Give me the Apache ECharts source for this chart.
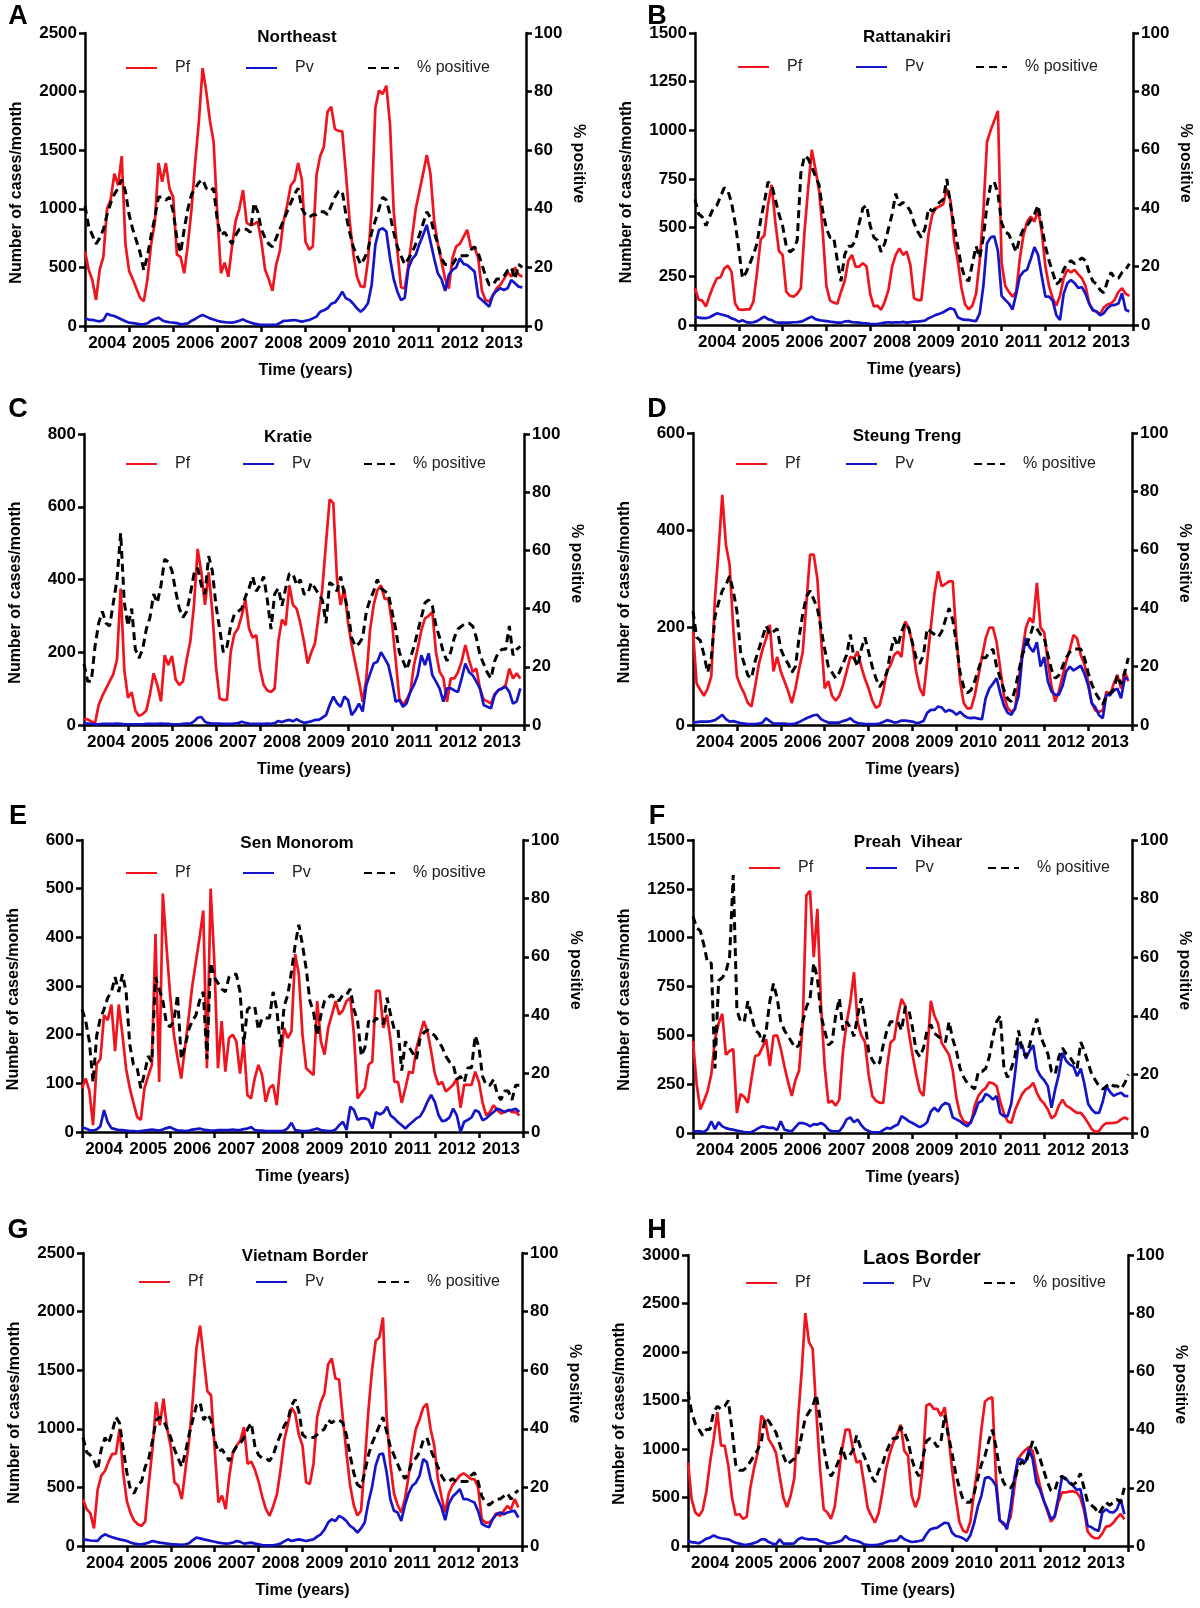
<!DOCTYPE html>
<html>
<head>
<meta charset="utf-8">
<script src="https://cdn.jsdelivr.net/npm/echarts@6/dist/echarts.min.js"></script>
<style>
html,body{margin:0;padding:0;background:#fff}
#main{width:1200px;height:1608px}
</style>
</head>
<body>
<div id="main"></div>
<script>
// monthly data Jan 2004 - Dec 2013
var years = ['2004','2005','2006','2007','2008','2009','2010','2011','2012','2013'];

var neastPf = [635,480,390,222,480,590,1000,1080,1300,1200,1450,700,470,400,320,240,210,400,700,880,1390,1230,1390,1170,1100,610,590,450,700,1000,1400,1750,2200,2000,1750,1570,950,450,540,420,680,900,1000,1160,880,860,870,890,720,480,400,300,520,640,890,1030,1200,1240,1390,1250,720,650,680,1290,1450,1530,1830,1870,1680,1665,1660,1300,900,620,420,340,330,560,1000,1860,2010,1980,2050,1720,980,640,330,320,520,760,1000,1150,1300,1460,1300,900,700,550,400,320,580,680,700,760,820,670,670,580,300,220,210,260,320,350,400,460,420,500,440,420];
var neastPv = [65,55,52,45,40,50,105,92,85,70,55,40,28,25,20,14,15,23,45,60,71,50,37,32,28,25,14,18,23,45,60,80,94,80,65,55,45,37,33,30,28,35,45,57,40,30,20,14,9,9,9,9,9,25,43,45,48,51,45,37,45,51,65,80,122,135,151,190,200,240,293,236,222,190,151,122,150,194,350,692,820,834,806,578,400,293,220,240,492,570,606,700,777,863,720,578,450,400,300,436,478,500,578,530,521,492,464,250,222,194,165,265,300,322,307,322,393,364,336,330];
var neastPos = [41,34,31,28,30,33,38,42,45,47,50,46,38,33,29,25,19,24,31,37,44,44,43,44,39,30,25,33,40,45,47,49,50,47,46,47,36,31,32,30,28,31,33,33,33,32,42,39,33,30,28,27,30,33,36,39,42,45,47,40,38,37,38,38,39,39,38,41,44,46,46,38,32,27,24,21,23,26,32,36,40,44,43,38,32,27,24,21,23,25,28,31,35,39,37,32,28,23,21,21,21,23,24,24,24,26,27,25,21,17,14,14,16,16,17,19,20,16,21,20];

var rattPf = [189,130,125,95,150,200,240,245,290,305,274,110,80,78,80,80,120,270,440,460,617,720,530,380,360,171,150,146,160,189,480,700,900,800,690,480,200,125,115,110,171,225,330,360,300,300,317,300,160,95,100,78,120,180,300,360,394,360,377,310,137,128,128,300,470,566,600,609,620,700,640,430,330,190,105,80,100,160,330,580,940,1000,1050,1100,320,200,170,146,171,343,463,531,557,531,590,480,300,200,137,100,150,240,285,270,283,260,240,200,110,75,69,55,90,105,111,130,170,189,160,150];
var rattPv = [43,38,35,35,40,50,60,55,50,45,34,28,17,25,15,12,14,20,32,43,30,25,14,12,12,12,12,14,15,17,25,35,43,30,25,22,20,17,15,12,12,18,20,15,13,12,9,8,6,5,5,8,12,14,12,14,13,16,12,15,17,17,20,22,35,43,52,58,65,77,86,80,40,30,26,26,22,20,60,200,420,450,455,380,150,129,110,80,160,250,274,285,340,400,360,250,146,146,125,50,26,160,214,231,215,190,195,160,110,77,69,50,60,86,100,103,110,163,77,70];
var rattPos = [43,38,37,34,37,40,41,44,47,46,42,35,26,16,18,21,24,28,36,42,49,48,43,38,34,27,25,26,29,52,58,57,54,51,48,39,33,30,30,22,15,24,27,27,29,35,40,41,34,30,29,25,28,33,38,45,41,42,41,39,35,32,30,33,40,39,40,42,43,50,41,34,27,20,16,15,21,27,23,30,41,48,49,45,35,32,31,28,25,30,33,34,36,38,41,34,27,22,18,14,15,19,21,22,21,22,23,22,18,15,14,12,11,15,18,16,16,18,19,21];

var kratPf = [18,15,10,5,55,80,100,120,140,180,375,150,75,90,40,25,30,40,85,142,110,65,192,165,190,125,110,120,180,230,330,484,420,330,420,311,160,73,69,69,200,250,265,300,345,265,240,247,155,110,95,91,100,230,290,274,384,330,320,280,229,169,200,225,302,375,500,620,610,400,330,375,283,220,170,120,64,128,260,330,370,384,347,347,280,180,73,55,70,91,165,210,260,293,300,311,200,146,130,64,128,128,145,175,220,180,146,155,100,70,65,59,85,95,101,110,155,128,142,128];
var kratPv = [5,4,3,2,2,3,3,3,3,4,3,2,2,2,2,2,2,3,3,3,3,4,3,3,2,2,2,3,4,4,10,20,22,9,5,4,4,4,3,3,3,4,5,9,6,4,3,3,3,3,4,3,5,11,8,12,14,10,16,10,6,8,10,14,14,20,27,55,78,60,50,78,69,27,40,59,37,110,140,169,174,200,183,165,120,64,69,50,60,91,110,137,192,165,197,137,119,100,64,101,101,95,91,128,169,146,137,119,100,55,50,46,82,96,100,105,91,59,65,101];
var kratPos = [21,15,15,27,35,39,35,34,42,50,66,42,34,40,26,23,26,33,37,45,42,48,57,56,53,46,40,37,39,45,52,54,48,45,58,53,41,33,25,27,34,38,39,40,44,47,51,46,48,51,43,33,45,47,41,47,52,52,48,50,45,45,49,47,45,43,35,49,48,46,51,45,39,30,27,28,30,39,43,46,50,47,46,45,39,33,25,22,19,23,27,32,37,42,43,41,34,30,25,22,25,30,33,34,35,35,34,30,24,21,18,16,22,25,26,26,34,24,26,27];

var steungPf = [192,85,72,60,75,100,260,360,473,370,330,200,100,80,65,45,38,80,125,155,178,206,110,140,110,90,70,45,75,115,150,250,350,350,300,180,75,90,60,50,60,82,110,140,137,151,120,95,75,50,35,40,70,110,123,144,151,140,213,199,165,110,75,60,130,200,270,316,285,290,295,295,180,90,45,34,34,60,100,140,178,200,200,170,115,60,35,27,32,90,150,200,220,210,292,200,190,130,80,48,69,100,130,155,185,178,144,125,90,45,30,27,30,69,60,85,103,75,110,90];
var steungPv = [5,6,7,7,7,8,10,15,21,12,7,8,6,4,3,2,2,2,3,5,14,8,3,3,3,3,2,2,3,6,10,14,17,20,21,12,8,5,5,5,5,8,10,14,7,4,3,2,2,2,2,3,6,10,8,5,6,9,9,8,7,4,5,8,25,31,31,38,36,27,31,28,21,27,20,15,14,15,13,12,55,75,85,96,65,40,25,21,34,60,140,178,160,150,170,120,140,90,69,62,62,80,110,120,112,117,122,105,82,45,36,20,14,62,62,70,75,55,96,96];
var steungPos = [39,30,29,24,18,23,37,42,46,48,51,46,39,25,21,17,16,22,26,30,34,31,32,33,26,23,21,18,20,30,38,44,46,43,40,33,26,20,18,16,18,21,24,31,23,20,26,30,25,20,16,13,15,18,25,30,27,32,35,33,28,23,21,24,33,32,31,30,32,36,40,36,28,18,13,11,12,15,19,23,23,25,26,20,16,12,9,8,12,18,24,27,30,34,33,31,30,24,19,16,17,20,23,25,26,26,26,23,18,14,11,9,7,10,11,12,17,14,18,23];

var senPf = [90,110,85,14,140,150,240,230,262,166,262,200,130,90,60,31,25,90,115,138,407,103,490,380,280,200,152,110,172,234,300,350,400,455,131,500,352,131,228,124,193,200,186,120,186,76,69,110,138,117,62,90,97,55,145,214,193,207,366,324,200,131,124,117,269,186,159,214,241,269,241,250,269,276,200,69,80,90,138,145,290,290,214,241,186,103,103,60,90,124,121,172,200,228,207,166,120,97,103,83,90,97,110,50,97,97,97,124,103,60,34,41,55,45,38,41,45,41,41,34];
var senPv = [10,7,4,3,5,12,45,20,8,6,4,4,3,2,2,1,2,3,4,5,4,3,5,8,10,6,3,3,2,3,5,6,7,5,4,3,3,4,4,4,4,5,4,4,6,7,10,4,3,3,2,2,2,2,2,3,8,19,4,3,2,2,3,5,7,4,3,2,2,5,14,21,4,52,45,25,28,28,25,7,41,36,40,52,34,28,20,14,7,15,21,28,32,45,62,76,62,35,22,24,30,48,34,0,21,25,30,45,41,24,28,35,41,48,45,41,45,45,48,41];
var senPos = [42,38,31,17,33,39,42,46,48,53,48,54,48,30,23,22,15,20,26,24,53,49,45,37,36,38,47,25,29,35,38,40,45,48,25,58,53,51,49,48,53,54,54,48,30,42,43,43,35,39,39,39,48,42,29,43,47,55,64,71,64,56,45,41,33,40,45,46,47,45,45,47,47,49,42,38,26,29,38,37,39,38,37,46,40,35,35,21,31,29,27,25,32,34,35,34,33,31,29,26,24,23,18,19,17,22,22,33,29,19,16,16,18,13,11,14,14,11,16,16];

var preahPf = [471,250,120,165,215,300,480,560,610,400,420,430,103,200,185,154,280,394,400,440,480,343,497,500,430,340,260,190,270,320,560,1217,1240,900,1148,650,340,154,165,140,171,420,566,670,823,566,500,465,300,190,165,155,154,330,463,480,600,686,651,514,400,300,215,190,400,677,600,560,460,430,400,320,180,95,60,51,51,140,190,215,230,260,255,240,160,100,60,51,115,160,200,223,235,257,206,170,150,120,75,90,140,171,140,130,115,103,103,80,51,20,5,10,37,51,51,52,55,70,80,69];
var preahPv = [9,9,8,5,20,60,20,55,34,25,20,17,12,9,5,3,5,15,26,34,30,26,26,15,60,17,12,9,30,51,51,45,34,45,43,51,40,17,9,9,9,34,70,80,55,69,40,20,10,3,3,3,15,26,22,35,43,86,75,60,51,40,30,40,55,110,129,110,140,154,146,80,70,60,45,34,60,100,154,165,200,190,171,189,100,86,86,150,300,460,450,380,420,450,326,291,270,240,129,223,300,411,370,350,340,291,330,250,150,120,103,103,160,240,210,190,200,206,190,189];
var preahPos = [74,70,69,64,58,58,22,52,53,55,60,88,42,38,38,45,40,35,34,31,35,45,51,46,38,35,33,31,29,30,38,43,46,58,53,40,35,30,31,40,46,35,38,36,33,40,46,38,28,25,23,24,30,35,38,38,38,35,43,42,36,28,26,29,35,37,34,33,32,31,38,32,28,22,19,17,16,15,21,21,22,26,33,38,40,22,19,22,26,35,28,26,30,35,39,33,30,27,21,20,26,29,27,26,24,22,31,28,24,20,18,16,15,16,17,16,16,15,17,20];

var vnamPf = [400,314,280,150,480,600,640,720,786,786,1000,620,380,280,215,186,171,210,540,829,1229,1029,1257,1000,850,543,514,400,650,900,1250,1686,1880,1600,1320,1286,830,371,430,314,600,800,857,900,1014,700,720,650,550,420,314,257,340,440,650,900,1040,1180,1130,950,857,543,529,700,1100,1229,1300,1550,1600,1429,1420,1100,800,520,350,260,300,700,1150,1500,1750,1780,1950,1100,700,450,350,286,400,600,829,1000,1080,1180,1214,1000,860,571,420,286,450,520,560,600,620,600,571,571,500,229,200,200,229,280,257,300,340,314,400,329];
var vnamPv = [57,52,47,45,43,80,100,86,75,65,57,50,43,30,20,16,14,20,30,43,35,29,25,20,16,14,12,9,15,23,50,71,65,57,50,43,36,29,24,20,22,30,43,35,20,25,29,20,14,8,6,6,6,12,20,40,57,43,50,57,50,43,50,57,80,100,140,200,229,214,257,240,214,171,150,114,150,200,371,500,686,780,790,629,400,300,286,214,350,450,514,540,600,743,714,571,480,400,330,220,360,420,450,486,400,400,385,371,300,190,171,160,230,270,286,271,286,295,300,243];
var vnamPos = [37,32,31,29,26,33,37,35,39,44,42,33,25,19,18,21,22,27,30,36,43,44,43,40,37,33,30,27,32,38,43,48,49,43,45,43,36,32,33,31,29,32,34,35,37,40,42,34,31,30,30,29,31,35,38,41,43,48,50,46,38,37,37,37,38,39,40,43,42,43,43,42,38,31,25,21,20,25,31,35,38,41,44,39,34,31,28,25,23,25,29,30,32,36,37,33,30,27,24,22,22,23,22,22,22,22,24,25,22,17,15,14,15,16,16,17,18,16,18,19];

var laosPf = [862,480,345,310,370,560,860,1100,1379,1034,1034,828,500,320,330,280,300,600,800,960,1345,1290,1100,1040,960,720,500,400,520,700,1300,1800,2400,2100,2034,1379,800,380,345,280,400,700,1000,1200,1200,1000,860,880,650,390,310,241,340,550,790,950,1069,1150,1250,980,931,520,400,500,800,1448,1466,1414,1414,1340,1431,1150,800,500,250,160,138,250,550,820,1200,1490,1520,1534,700,276,220,220,300,600,897,950,990,1020,980,780,620,470,360,250,300,450,552,552,560,565,552,500,370,150,100,80,80,130,200,207,240,290,330,276];
var laosPv = [52,40,34,28,50,75,86,110,90,80,75,69,50,34,25,15,12,20,30,45,69,69,40,25,17,69,24,24,25,28,69,86,75,69,69,69,52,40,24,28,34,45,60,103,69,60,52,40,17,12,10,10,15,24,40,52,52,60,103,69,55,41,45,52,60,121,170,182,190,215,240,234,138,103,95,80,52,110,230,400,517,700,710,680,621,259,241,172,400,700,897,890,862,1000,897,655,580,470,380,276,310,500,707,700,650,621,580,586,414,207,195,170,155,345,379,350,345,380,483,328];
var laosPos = [53,46,42,40,38,40,40,46,48,47,48,50,40,28,26,26,27,29,31,33,36,44,43,41,39,35,31,28,29,30,32,38,44,46,48,52,44,34,27,24,26,29,34,30,31,33,38,34,31,28,24,22,26,28,32,35,37,37,41,39,36,30,26,24,30,36,37,36,34,36,45,38,32,25,20,16,15,15,18,23,28,31,36,40,34,26,22,20,20,22,27,29,28,32,36,33,30,26,22,19,19,23,24,23,22,21,22,25,20,15,14,13,11,13,15,14,15,16,15,20];

// layout of the eight panels
var panels = [
  {letter:'A', title:'Northeast', pf:neastPf, pv:neastPv, pos:neastPos, max:2500, step:500, box:[85,33,441,293], lg:[125,245,367,68], tt:[297,37], lt:[18,17], ts:17},
  {letter:'B', title:'Rattanakiri', pf:rattPf, pv:rattPv, pos:rattPos, max:1500, step:250, box:[695,33,438,292], lg:[737,855,975,67], tt:[907,37], lt:[657,17], ts:17},
  {letter:'C', title:'Kratie', pf:kratPf, pv:kratPv, pos:kratPos, max:800, step:200, box:[84,434,440,291], lg:[125,242,363,464], tt:[288,437], lt:[18,410], ts:17},
  {letter:'D', title:'Steung Treng', pf:steungPf, pv:steungPv, pos:steungPos, max:600, step:200, box:[693,433,439,292], lg:[735,845,973,464], tt:[907,436], lt:[657,410], ts:17},
  {letter:'E', title:'Sen Monorom', pf:senPf, pv:senPv, pos:senPos, max:600, step:100, box:[82,840,441,292], lg:[125,242,363,873], tt:[297,843], lt:[18,817], ts:17},
  {letter:'F', title:'Preah  Vihear', pf:preahPf, pv:preahPv, pos:preahPos, max:1500, step:250, box:[693,840,439,293], lg:[748,865,987,868], tt:[908,842], lt:[657,817], ts:17},
  {letter:'G', title:'Vietnam Border', pf:vnamPf, pv:vnamPv, pos:vnamPos, max:2500, step:500, box:[83,1253,439,293], lg:[138,255,377,1282], tt:[305,1256], lt:[18,1231], ts:17},
  {letter:'H', title:'Laos Border', pf:laosPf, pv:laosPv, pos:laosPos, max:3000, step:500, box:[688,1255,440,291], lg:[745,862,983,1283], tt:[922,1258], lt:[657,1231], ts:20}
];

var FONT = 'Liberation Sans, Arial, Helvetica, sans-serif';
var RED = '#f0141e', BLUE = '#1515c8', BLACK = '#000';

function pairs(arr){ return arr.map(function(v, i){ return [i, v]; }); }

function axisBase(){
  return {
    axisLine: {show:true, lineStyle:{color:BLACK, width:2.5}},
    axisTick: {show:true, inside:false, length:6, lineStyle:{color:BLACK, width:2.5}},
    splitLine: {show:false},
    axisLabel: {color:BLACK, fontFamily:FONT, fontWeight:'bold', fontSize:17},
    nameTextStyle: {color:BLACK, fontFamily:FONT, fontWeight:'bold', fontSize:16}
  };
}

var option = {
  animation: false,
  backgroundColor: '#fff',
  grid: [], xAxis: [], yAxis: [], series: [], legend: [],
  graphic: {elements: []}
};

panels.forEach(function(p, g){
  option.grid.push({left:p.box[0], top:p.box[1], width:p.box[2], height:p.box[3]});

  // visible year axis
  var xa = axisBase();
  xa.type = 'category'; xa.gridIndex = g; xa.data = years; xa.boundaryGap = true;
  xa.axisTick.alignWithLabel = false;
  xa.axisTick.interval = 0;
  xa.axisLabel.interval = 0;
  xa.axisLabel.margin = 9;
  xa.name = 'Time (years)'; xa.nameLocation = 'middle'; xa.nameGap = 37;
  option.xAxis.push(xa);
  // hidden month axis the lines are drawn on
  option.xAxis.push({type:'value', gridIndex:g, min:0, max:120, show:false});

  var yl = axisBase();
  yl.type = 'value'; yl.gridIndex = g; yl.min = 0; yl.max = p.max; yl.interval = p.step;
  yl.axisLabel.margin = 8;
  yl.axisLabel.formatter = function(v){ return String(v); };
  yl.name = 'Number of cases/month'; yl.nameLocation = 'middle'; yl.nameGap = 60; yl.nameRotate = 90;
  yl.nameTextStyle.padding = [0, 26, 0, 0];
  option.yAxis.push(yl);

  var yr = axisBase();
  yr.type = 'value'; yr.gridIndex = g; yr.position = 'right'; yr.min = 0; yr.max = 100; yr.interval = 20;
  yr.axisLabel.margin = 8;
  yr.axisLabel.formatter = function(v){ return String(v); };
  yr.name = '% positive'; yr.nameLocation = 'middle'; yr.nameGap = 44; yr.nameRotate = -90;
  yr.nameTextStyle.padding = [0, 32, 0, 0];
  option.yAxis.push(yr);

  option.series.push({
    type:'line', name:'Pf', xAxisIndex:2*g+1, yAxisIndex:2*g, data:pairs(p.pf),
    symbol:'none', lineStyle:{color:RED, width:2.7}, itemStyle:{color:RED}, z:3
  });
  option.series.push({
    type:'line', name:'Pv', xAxisIndex:2*g+1, yAxisIndex:2*g, data:pairs(p.pv),
    symbol:'none', lineStyle:{color:BLUE, width:2.7}, itemStyle:{color:BLUE}, z:4
  });
  option.series.push({
    type:'line', name:'% positive', xAxisIndex:2*g+1, yAxisIndex:2*g+1, data:pairs(p.pos),
    symbol:'none', lineStyle:{color:BLACK, width:3, type:[8,5]}, itemStyle:{color:BLACK}, z:5
  });

  ['Pf','Pv','% positive'].forEach(function(nm, k){
    option.legend.push({
      left:p.lg[k], top:p.lg[3]-8, padding:0, itemWidth:31, itemHeight:16,
      selectedMode:false, data:[nm],
      itemStyle:{opacity:0},
      textStyle:{color:'#222', fontFamily:FONT, fontSize:16, padding:[0,0,0,13]}
    });
  });

  option.graphic.elements.push({
    type:'text', x:p.lt[0], y:p.lt[1],
    style:{text:p.letter, fill:BLACK, font:'bold 27px ' + FONT, textAlign:'center', textVerticalAlign:'middle', align:'center', verticalAlign:'middle'}
  });
  option.graphic.elements.push({
    type:'text', x:p.tt[0], y:p.tt[1],
    style:{text:p.title, fill:BLACK, font:'bold ' + p.ts + 'px ' + FONT, textAlign:'center', textVerticalAlign:'middle', align:'center', verticalAlign:'middle'}
  });
});

var chart = echarts.init(document.getElementById('main'), null, {renderer:'canvas', width:1200, height:1608});
chart.setOption(option);
</script>
</body>
</html>
